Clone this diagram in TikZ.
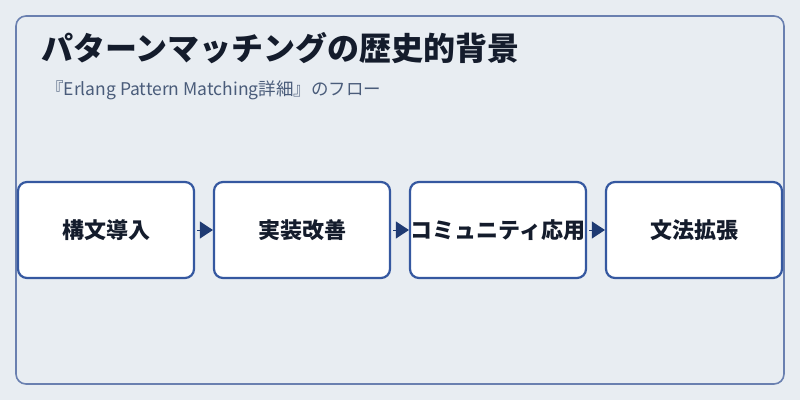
\documentclass[tikz,border=0pt]{standalone}
\usepackage{fontspec}
\setmainfont{Noto Sans CJK JP}
\usetikzlibrary{calc}
\usetikzlibrary{arrows.meta}

\definecolor{pagebg}{HTML}{E8EDF2}
\definecolor{panelline}{HTML}{6A80B0}
\definecolor{boxline}{HTML}{3558A0}
\definecolor{arrowdark}{HTML}{1F3B73}
\definecolor{titletext}{HTML}{141C2C}
\definecolor{subtext}{HTML}{4A5C7A}

\begin{document}
\begin{tikzpicture}[x=1pt,y=1pt,
    stagebox/.style={draw=boxline, line width=2.2pt, fill=white, rounded corners=9pt,
      minimum width=176pt, minimum height=96pt, inner sep=0pt,
      font=\fontsize{22}{26}\selectfont\bfseries, text=titletext},
    flow/.style={-{Triangle[length=13pt,width=17pt]}, draw=arrowdark, fill=arrowdark,
      line width=1pt, shorten <=2pt}]
    % Define the size of the page and the stage spacing
    \def\W{800}  % page width
    \def\H{400}  % page height
    \def\dx{196} % distance between stages
    \def\ym{170} % middle line of the stages

    % Draw the page and the panel
    \fill[pagebg] (0,0) rectangle (\W,\H);
    \useasboundingbox (0,0) rectangle (\W,\H);
    \draw[panelline, line width=1.6pt, rounded corners=10pt] (16,16) rectangle (784,384);

    % Draw the title and subtitle
    \node[anchor=base west, inner sep=0pt, text=titletext, font=\fontsize{32}{38}\selectfont\bfseries]
      (title) at (41,339) {パターンマッチングの歴史的背景};
    \node[anchor=base west, inner sep=0pt, text=subtext, font=\fontsize{17.5}{21}\selectfont]
      (subtitle) at (46,305) {『Erlang Pattern Matching詳細』のフロー};

    % Draw the stages
    \node[stagebox] (S1) at (106,\ym) {構文導入};
    \node[stagebox] (S2) at ({106+\dx},\ym) {実装改善};
    \node[stagebox] (S3) at ({106+2*\dx},\ym) {コミュニティ応用};
    \node[stagebox] (S4) at ({106+3*\dx},\ym) {文法拡張};

    % Draw the arrows between stages
    \draw[flow] (S1.east) -- (S2.west);
    \draw[flow] (S2.east) -- (S3.west);
    \draw[flow] (S3.east) -- (S4.west);
\end{tikzpicture}
\end{document}
